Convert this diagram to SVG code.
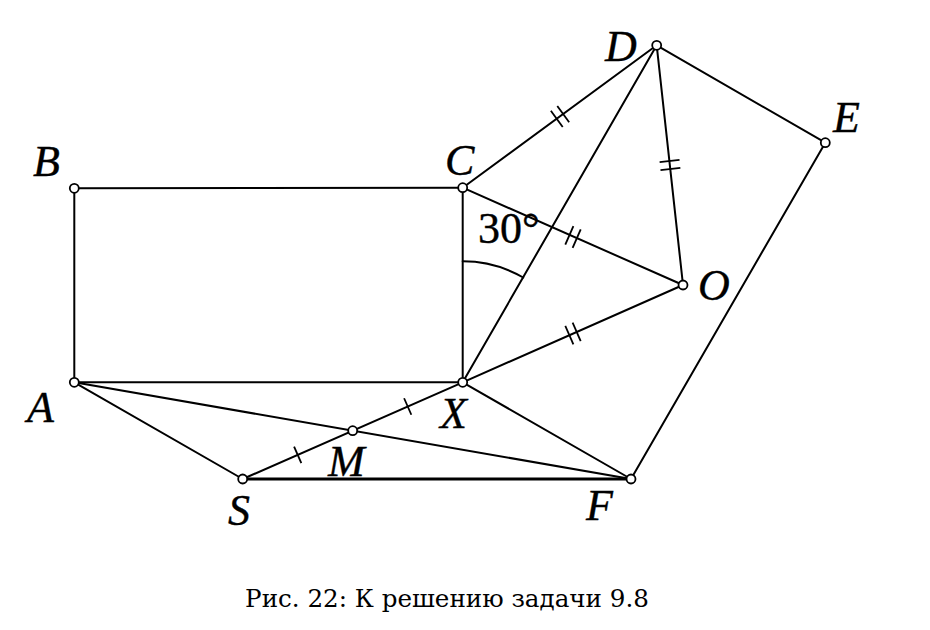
<svg xmlns="http://www.w3.org/2000/svg" width="930" height="630" viewBox="0 0 930 630">
<style>
.l{stroke:#000;stroke-width:2;fill:none;stroke-linecap:round}
.t{stroke:#000;stroke-width:1.8}
.p{fill:#fff;stroke:#000;stroke-width:1.8}
.lab{font-family:"Liberation Serif",serif;font-style:italic;font-size:44px;fill:#000;stroke:#000;stroke-width:0.4}
.cap{font-family:"DejaVu Serif",serif;font-size:24.6px;fill:#000}
</style>
<rect width="930" height="630" fill="#fff"/>
<g id="connectors">
<line class="l" x1="74.3" y1="188.3" x2="462.7" y2="187.7"/>
<line class="l" x1="74.3" y1="188.3" x2="74.3" y2="382.3"/>
<line class="l" x1="462.7" y1="187.7" x2="462.7" y2="382.3"/>
<line class="l" x1="74.3" y1="382.3" x2="462.7" y2="382.3"/>
<line class="l" x1="74.3" y1="382.3" x2="242.7" y2="479"/>
<line class="l" x1="74.3" y1="382.3" x2="631" y2="479"/>
<line class="l" x1="242.7" y1="479" x2="631" y2="479" style="stroke-width:3"/>
<line class="l" x1="242.7" y1="479" x2="462.7" y2="382.3"/>
<line class="l" x1="462.7" y1="382.3" x2="631" y2="479"/>
<line class="l" x1="462.7" y1="382.3" x2="656.7" y2="45.3"/>
<line class="l" x1="462.7" y1="382.3" x2="683" y2="285"/>
<line class="l" x1="462.7" y1="187.7" x2="683" y2="285"/>
<line class="l" x1="462.7" y1="187.7" x2="656.7" y2="45.3"/>
<line class="l" x1="656.7" y1="45.3" x2="683" y2="285"/>
<line class="l" x1="656.7" y1="45.3" x2="825.3" y2="142.7"/>
<line class="l" x1="825.3" y1="142.7" x2="631" y2="479"/>
<path class="l" d="M462.7 261.3 A121 121 0 0 1 523.2 277.5"/>
<g id="ticks">
<g transform="translate(560,116.5) rotate(-36.4)"><line class="t" x1="-4" y1="-10" x2="-4" y2="10"/><line class="t" x1="4" y1="-10" x2="4" y2="10"/></g>
<g transform="translate(670,165) rotate(83.8)"><line class="t" x1="-4" y1="-10" x2="-4" y2="10"/><line class="t" x1="4" y1="-10" x2="4" y2="10"/></g>
<g transform="translate(573,237) rotate(23.8)"><line class="t" x1="-4" y1="-10" x2="-4" y2="10"/><line class="t" x1="4" y1="-10" x2="4" y2="10"/></g>
<g transform="translate(573,333.5) rotate(-23.8)"><line class="t" x1="-4" y1="-10" x2="-4" y2="10"/><line class="t" x1="4" y1="-10" x2="4" y2="10"/></g>
<g transform="translate(297.7,454.8) rotate(-23.7)"><line class="t" x1="0" y1="-9" x2="0" y2="9"/></g>
<g transform="translate(407.7,406.5) rotate(-23.7)"><line class="t" x1="0" y1="-9" x2="0" y2="9"/></g>
</g>
</g>
<g id="B"><circle class="p" cx="74.3" cy="188.3" r="4.5"/><text class="lab" x="33" y="176">B</text></g>
<g id="C"><circle class="p" cx="462.7" cy="187.7" r="4.5"/><text class="lab" x="445" y="175">C</text></g>
<g id="A"><circle class="p" cx="74.3" cy="382.3" r="4.5"/><text class="lab" x="27" y="422">A</text></g>
<g id="X"><circle class="p" cx="462.7" cy="382.3" r="4.5"/><text class="lab" x="440" y="428">X</text></g>
<g id="D"><circle class="p" cx="656.7" cy="45.3" r="4.5"/><text class="lab" x="605" y="61">D</text></g>
<g id="E"><circle class="p" cx="825.3" cy="142.7" r="4.5"/><text class="lab" x="833" y="132">E</text></g>
<g id="O"><circle class="p" cx="683" cy="285" r="4.5"/><text class="lab" x="698" y="300">O</text></g>
<g id="F"><circle class="p" cx="631" cy="479" r="4.5"/><text class="lab" x="586" y="520">F</text></g>
<g id="S"><circle class="p" cx="242.7" cy="479" r="4.5"/><text class="lab" x="228" y="525">S</text></g>
<g id="M"><circle class="p" cx="352.7" cy="430.7" r="4.5"/><text class="lab" x="328" y="476">M</text></g>
<g id="angle"><text class="lab" style="font-style:normal" x="478" y="243">30°</text></g>
<text class="cap" x="447" y="607" text-anchor="middle">Рис. 22: К решению задачи 9.8</text>
</svg>
